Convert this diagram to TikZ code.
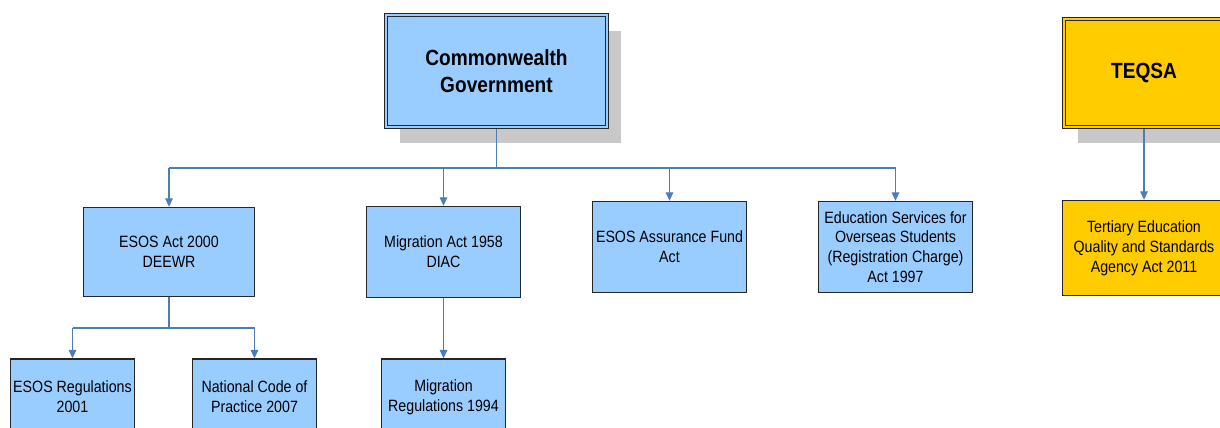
\documentclass[tikz,border=0pt]{standalone}
\usepackage{fontspec}
\setmainfont{Liberation Sans}[FakeStretch=0.87]
\usepackage{tikz}
\usetikzlibrary{arrows.meta,shadows}
\definecolor{boxblue}{HTML}{99CCFF}
\definecolor{boxyellow}{HTML}{FFCC00}
\definecolor{linkblue}{HTML}{4A7EBB}
\definecolor{shadowgray}{HTML}{C8C8C8}
\definecolor{boxline}{HTML}{262626}
\tikzstyle{act}=[draw=boxline,line width=0.8pt,inner sep=1pt,align=center,font=\fontsize{9.3}{11.3}\selectfont]
\tikzstyle{wire}=[draw=linkblue,line width=0.6pt]
\tikzstyle{link}=[wire,-{Triangle[width=4.3pt,length=4.8pt]}]
\tikzset{head/.style={draw=boxline,line width=0.8pt,double=#1,double distance=0.9pt,fill=#1,
    inner sep=1pt,outer sep=1.2pt,align=center,font=\bfseries\fontsize{12.5}{15}\selectfont,
    drop shadow={shadow xshift=0.28cm,shadow yshift=-0.32cm,fill=shadowgray,opacity=1}}}

\begin{document}
\begin{tikzpicture}[x=0.02cm,y=-0.02cm]
  \clip (0,0) rectangle (1220,428);

  % top level
  \node[head=boxblue,minimum width=4.42cm,minimum height=2.24cm] (gov) at (496.5,71) {Commonwealth\\Government};
  \node[head=boxyellow,minimum width=3.2cm,minimum height=2.16cm] (teqsa) at (1144,73) {TEQSA};

  % acts
  \node[act,fill=boxblue,minimum width=3.42cm,minimum height=1.78cm] (esosact) at (169,252) {ESOS Act 2000\\DEEWR};
  \node[act,fill=boxblue,minimum width=3.08cm,minimum height=1.82cm] (migact) at (443.5,252) {Migration Act 1958\\DIAC};
  \node[act,fill=boxblue,minimum width=3.08cm,minimum height=1.82cm] (assur) at (669.5,247) {ESOS Assurance Fund\\Act};
  \node[act,fill=boxblue,minimum width=3.08cm,minimum height=1.82cm] (edserv) at (895.5,247) {Education Services for\\Overseas Students\\(Registration Charge)\\Act 1997};
  \node[act,fill=boxyellow,minimum width=3.26cm,minimum height=1.9cm] (teqsaact) at (1144,248) {Tertiary Education\\Quality and Standards\\Agency Act 2011};

  % regulations
  \node[act,fill=boxblue,minimum width=2.48cm,minimum height=1.52cm] (esosreg) at (72.5,397) {ESOS Regulations\\2001};
  \node[act,fill=boxblue,minimum width=2.48cm,minimum height=1.52cm] (natcode) at (254.5,397) {National Code of\\Practice 2007};
  \node[act,fill=boxblue,minimum width=2.48cm,minimum height=1.52cm] (migreg) at (443.5,397) {Migration\\Regulations 1994};

  \coordinate (bus) at (496.5,168);
  \coordinate (esosbus) at (169,328);

  \draw[wire] (gov) -- (bus);
  \draw[wire] (esosact.north |- bus) -- (edserv.north |- bus);
  \foreach \n in {esosact,migact,assur,edserv}
    \draw[link] (\n.north |- bus) -- (\n);

  \draw[wire] (esosact) -- (esosbus);
  \draw[wire] (esosreg.north |- esosbus) -- (natcode.north |- esosbus);
  \foreach \n in {esosreg,natcode}
    \draw[link] (\n.north |- esosbus) -- (\n);

  \draw[link] (migact) -- (migreg);
  \draw[link] (teqsa) -- (teqsaact);
\end{tikzpicture}
\end{document}
